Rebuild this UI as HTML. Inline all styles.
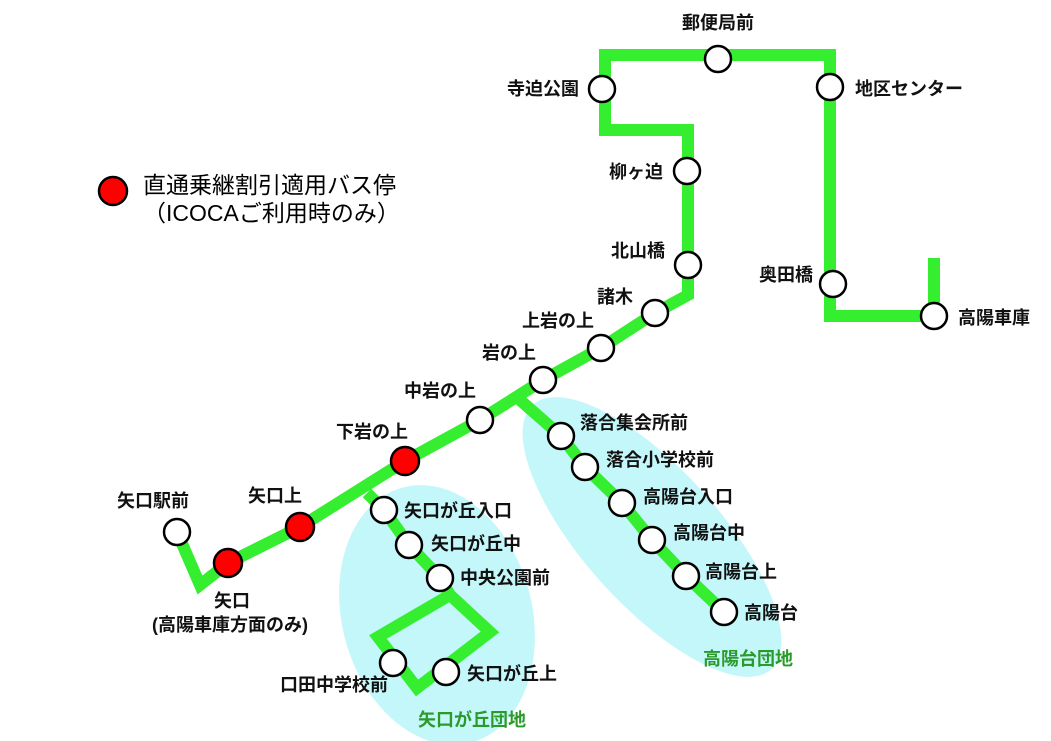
<!DOCTYPE html>
<html><head><meta charset="utf-8"><style>
html,body{margin:0;padding:0;background:#fff;}
svg{display:block}
text{font-family:"Liberation Sans","Noto Sans CJK JP",sans-serif;font-weight:bold;font-size:18px;fill:#111;}
.lg{font-weight:normal;font-size:23px;fill:#000;}
.gr{fill:#2a9a2a;font-size:18px;}
</style></head><body>
<svg width="1051" height="741" viewBox="0 0 1051 741" xmlns="http://www.w3.org/2000/svg">
<ellipse cx="437" cy="615" rx="95" ry="132" transform="rotate(-15 437 615)" fill="#c4f7f9"/>
<ellipse cx="652" cy="537" rx="178" ry="68" transform="rotate(48 652 537)" fill="#c4f7f9"/>
<g fill="none" stroke="#36ee30" stroke-width="12" stroke-linejoin="miter" stroke-linecap="butt">
<polyline points="177,532 200,585 228,563 300,527 405,461 480,420 543,380 601,348 655,313 688,295 688,130 605,130 605,55 830,55 830,316 934,316 934,258"/>
<polyline points="520,400 561,436 585,467 622,503 652,540 686,576 724,612"/>
<polyline points="367,493 384,510 409,545 440,578 450,595 490,632 417,688 378,637 450,595"/>
</g>
<g fill="#fff" stroke="#000" stroke-width="2.5">
<circle cx="177" cy="532" r="13"/>
<circle cx="480" cy="420" r="13"/>
<circle cx="543" cy="380" r="13"/>
<circle cx="601" cy="348" r="13"/>
<circle cx="655" cy="313" r="13"/>
<circle cx="688" cy="265" r="13"/>
<circle cx="687" cy="171" r="13"/>
<circle cx="602" cy="89" r="13"/>
<circle cx="718" cy="59" r="13"/>
<circle cx="830" cy="87" r="13"/>
<circle cx="833" cy="284" r="13"/>
<circle cx="934" cy="316" r="13"/>
<circle cx="561" cy="436" r="13"/>
<circle cx="585" cy="467" r="13"/>
<circle cx="622" cy="503" r="13"/>
<circle cx="652" cy="540" r="13"/>
<circle cx="686" cy="576" r="13"/>
<circle cx="724" cy="612" r="13"/>
<circle cx="384" cy="510" r="13"/>
<circle cx="409" cy="545" r="13"/>
<circle cx="440" cy="578" r="13"/>
<circle cx="393" cy="663" r="13"/>
<circle cx="446" cy="672" r="13"/>
</g>
<g fill="#f00" stroke="#000" stroke-width="2.5">
<circle cx="228" cy="563" r="14"/>
<circle cx="300" cy="527" r="14"/>
<circle cx="405" cy="461" r="14"/>
<circle cx="113" cy="191" r="14"/>
</g>
<text class="lg" x="143" y="193">直通乗継割引適用バス停</text>
<text class="lg" x="143" y="221">（ICOCAご利用時のみ）</text>
<text x="153" y="507" text-anchor="middle">矢口駅前</text>
<text x="248" y="502">矢口上</text>
<text x="336" y="438">下岩の上</text>
<text x="404" y="397">中岩の上</text>
<text x="482" y="359">岩の上</text>
<text x="522" y="327">上岩の上</text>
<text x="597" y="303">諸木</text>
<text x="665" y="257" text-anchor="end">北山橋</text>
<text x="663" y="178" text-anchor="end">柳ヶ迫</text>
<text x="579" y="95" text-anchor="end">寺迫公園</text>
<text x="718" y="29" text-anchor="middle">郵便局前</text>
<text x="855" y="95">地区センター</text>
<text x="813" y="281" text-anchor="end">奥田橋</text>
<text x="958" y="324">高陽車庫</text>
<text x="580" y="429">落合集会所前</text>
<text x="606" y="466">落合小学校前</text>
<text x="643" y="503">高陽台入口</text>
<text x="673" y="539">高陽台中</text>
<text x="705" y="578">高陽台上</text>
<text x="744" y="619">高陽台</text>
<text class="gr" x="703" y="665">高陽台団地</text>
<text x="404" y="517">矢口が丘入口</text>
<text x="431" y="550">矢口が丘中</text>
<text x="460" y="584">中央公園前</text>
<text x="467" y="680">矢口が丘上</text>
<text x="388" y="691" text-anchor="end">口田中学校前</text>
<text class="gr" x="418" y="726">矢口が丘団地</text>
<text x="214" y="607">矢口</text>
<text x="152" y="631">(高陽車庫方面のみ)</text>
</svg>
</body></html>
